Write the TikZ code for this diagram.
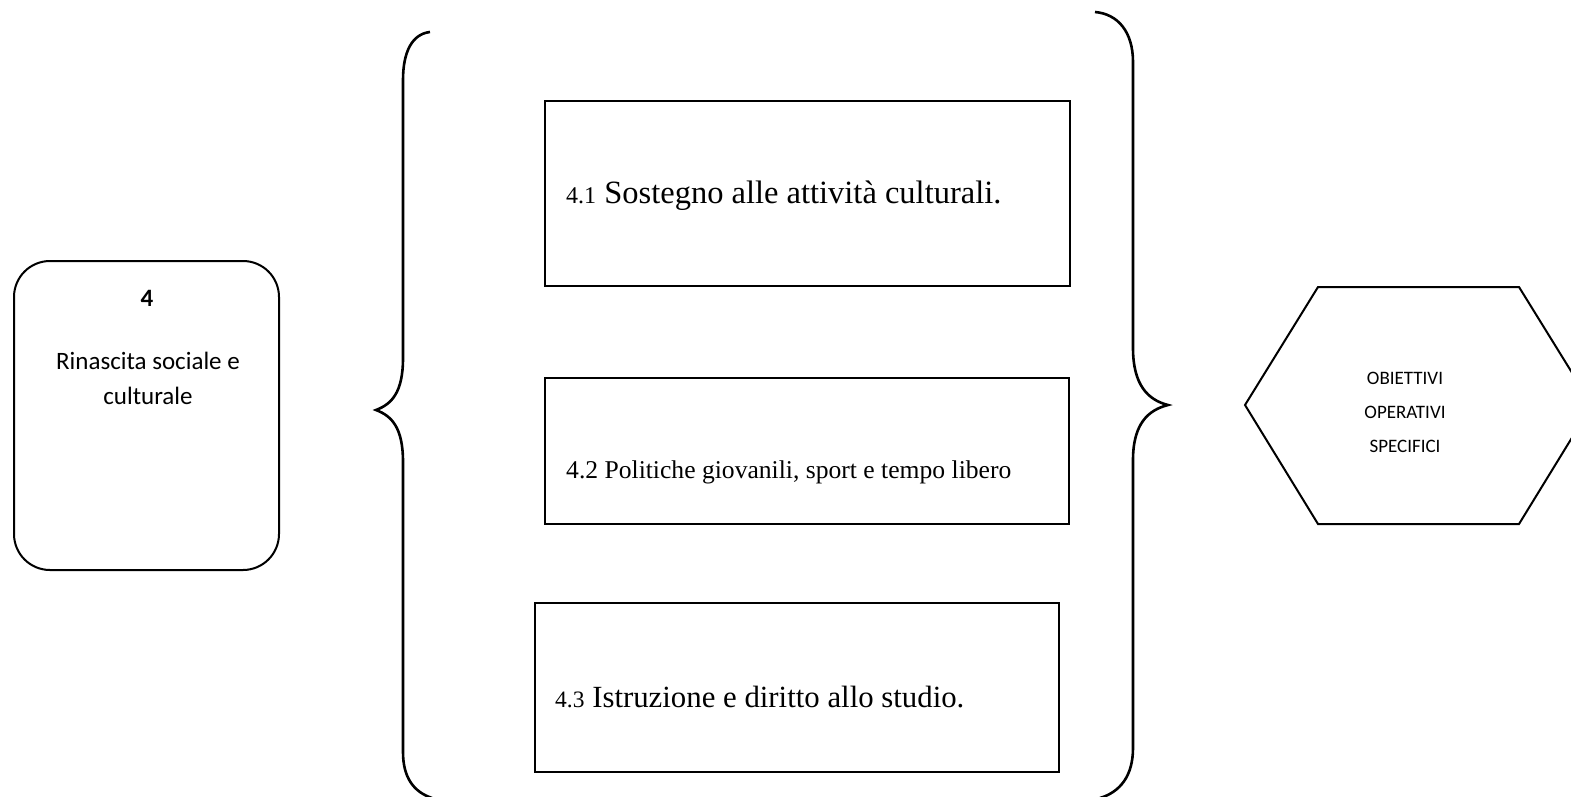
\documentclass[tikz,border=0pt]{standalone}
\usepackage{fontspec}
\setmainfont{Liberation Serif}
\newfontfamily\calib{Carlito}
\usetikzlibrary{positioning}
\tikzset{
  rbox/.style={draw, line width=2pt, rounded corners=36pt, minimum width=265pt, minimum height=309pt, inner sep=0pt},
  sbox/.style={draw, line width=2pt, minimum width=#1, inner sep=0pt},
  brace/.style={draw, line width=2.6pt},
  bigtxt/.style={anchor=west, inner sep=0pt},
  caltxt/.style={inner sep=0pt, align=center}
}
\begin{document}
\begin{tikzpicture}[x=1pt,y=-1pt]
\useasboundingbox (0,0) rectangle (1571,796);
\clip (0,0) rectangle (1571,796);
% left rounded box
\node[rbox] (main) at (146.5,415.5) {};
\node[caltxt, font=\calib\fontsize{25}{30}\selectfont] (num) at (147,298) {\textbf{4}};
\node[caltxt, font=\calib\fontsize{25}{35}\selectfont] (title) at (148,378) {Rinascita sociale e\\culturale};
% braces
\path[brace] (430,32) .. controls (412,34) and (403,52) .. (403,80) -- (403,358)
  .. controls (403,392) and (392,404) .. (376,410)
  .. controls (392,416) and (403,428) .. (403,462) -- (403,752)
  .. controls (403,778) and (414,792) .. (432,798);
\path[brace] (1095,12) .. controls (1118,14) and (1133,32) .. (1133,62) -- (1133,348)
  .. controls (1133,385) and (1148,400) .. (1168,405)
  .. controls (1148,410) and (1133,424) .. (1133,460) -- (1133,748)
  .. controls (1133,776) and (1120,792) .. (1100,798);
% three boxes
\node[sbox=525pt, minimum height=185pt] (b1) at (807.5,193.5) {};
\node[sbox=524pt, minimum height=146pt] (b2) at (807,451) {};
\node[sbox=524pt, minimum height=169pt] (b3) at (797,687.5) {};
\node[bigtxt, font=\fontsize{32.5}{38}\selectfont] (t1) at (566,196) {{\fontsize{24}{28}\selectfont 4.1} Sostegno alle attività culturali.};
\node[bigtxt, font=\fontsize{25.6}{30}\selectfont] (t2) at (566,472) {4.2 Politiche giovanili, sport e tempo libero};
\node[bigtxt, font=\fontsize{30.8}{36}\selectfont] (t3) at (555,697) {{\fontsize{23.5}{28}\selectfont 4.3} Istruzione e diritto allo studio.};
% hexagon
\draw[line width=2pt] (1245,405) -- (1318,287) -- (1519,287) -- (1592,405) -- (1519,524) -- (1318,524) -- cycle;
\node[caltxt, font=\calib\fontsize{19}{34}\selectfont] (hex) at (1405,412) {OBIETTIVI\\OPERATIVI\\SPECIFICI};
\end{tikzpicture}
\end{document}
